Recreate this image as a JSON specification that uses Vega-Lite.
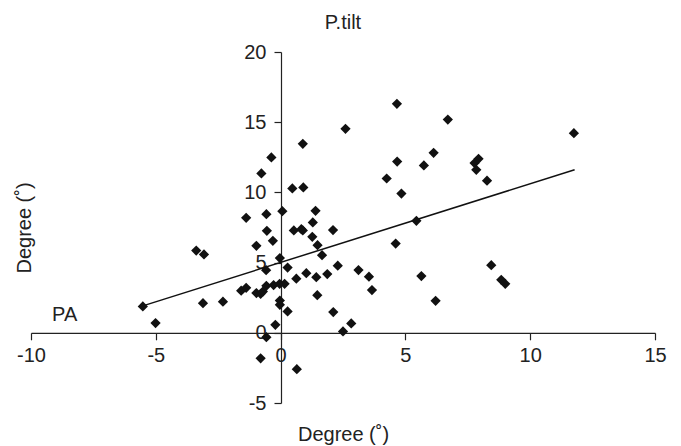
{
  "$schema": "https://vega.github.io/schema/vega-lite/v6.json",
  "width": 624,
  "height": 351,
  "autosize": {"type": "none"},
  "padding": {"left": 31, "top": 52, "right": 26, "bottom": 43},
  "background": "white",
  "config": {"view": {"stroke": null}, "font": "Liberation Sans"},
  "title": {"text": "P.tilt", "fontSize": 20, "fontWeight": "normal", "color": "#222", "anchor": "middle", "frame": "group", "baseline": "alphabetic", "offset": 14, "dy": 21, "font": "Liberation Sans"},
  "datasets": {
    "pts": [
      {"x": -5.52, "y": 1.88}, {"x": -5.01, "y": 0.69}, {"x": -3.38, "y": 5.86}, {"x": -3.07, "y": 5.58},
      {"x": -3.11, "y": 2.11}, {"x": -2.31, "y": 2.22}, {"x": -1.58, "y": 3.0}, {"x": -1.38, "y": 3.2},
      {"x": -1.38, "y": 8.19}, {"x": -0.97, "y": 6.2}, {"x": -0.77, "y": 11.35}, {"x": -0.37, "y": 12.49},
      {"x": -0.57, "y": 8.45}, {"x": -0.55, "y": 7.26}, {"x": -0.31, "y": 6.55}, {"x": -0.58, "y": 4.46},
      {"x": -0.97, "y": 2.83}, {"x": -0.8, "y": 2.78}, {"x": -0.71, "y": 2.94}, {"x": -0.57, "y": 3.35},
      {"x": -0.28, "y": 3.4}, {"x": -0.04, "y": 3.49}, {"x": 0.16, "y": 3.49}, {"x": 0.07, "y": 8.66},
      {"x": -0.03, "y": 5.32}, {"x": 0.28, "y": 4.65}, {"x": -0.03, "y": 2.3}, {"x": -0.03, "y": 1.99},
      {"x": 0.28, "y": 1.52}, {"x": -0.21, "y": 0.57}, {"x": -0.57, "y": -0.31}, {"x": -0.8, "y": -1.82},
      {"x": 0.65, "y": -2.59}, {"x": 0.47, "y": 10.28}, {"x": 0.91, "y": 10.35}, {"x": 0.89, "y": 13.46},
      {"x": 0.53, "y": 7.29}, {"x": 0.83, "y": 7.38}, {"x": 0.89, "y": 7.29}, {"x": 1.4, "y": 8.69},
      {"x": 1.29, "y": 7.86}, {"x": 1.27, "y": 6.84}, {"x": 1.48, "y": 6.24}, {"x": 1.66, "y": 5.53},
      {"x": 1.03, "y": 4.25}, {"x": 0.63, "y": 3.85}, {"x": 1.43, "y": 3.96}, {"x": 1.87, "y": 4.18},
      {"x": 1.47, "y": 2.68}, {"x": 2.1, "y": 7.32}, {"x": 2.29, "y": 4.78}, {"x": 2.11, "y": 1.48},
      {"x": 2.5, "y": 0.1}, {"x": 2.83, "y": 0.67}, {"x": 2.6, "y": 14.53}, {"x": 3.12, "y": 4.47},
      {"x": 3.54, "y": 4.0}, {"x": 3.66, "y": 3.04}, {"x": 4.25, "y": 10.99}, {"x": 4.66, "y": 16.31},
      {"x": 4.67, "y": 12.2}, {"x": 4.61, "y": 6.36}, {"x": 4.84, "y": 9.92}, {"x": 5.44, "y": 7.98},
      {"x": 5.64, "y": 4.04}, {"x": 5.74, "y": 11.92}, {"x": 6.13, "y": 12.82}, {"x": 6.21, "y": 2.28},
      {"x": 6.7, "y": 15.19}, {"x": 7.77, "y": 12.09}, {"x": 7.93, "y": 12.39}, {"x": 7.84, "y": 11.61},
      {"x": 8.27, "y": 10.83}, {"x": 8.44, "y": 4.82}, {"x": 8.84, "y": 3.77}, {"x": 9.0, "y": 3.49},
      {"x": 11.75, "y": 14.22}
    ],
    "trend": [{"x": -5.52, "y": 1.92}, {"x": 11.78, "y": 11.61}],
    "lbl": [{"x": -8.65, "y": 1.3, "t": "PA"}]
  },
  "encoding": {
    "x": {
      "field": "x", "type": "quantitative",
      "scale": {"domain": [-10, 15], "nice": false, "zero": false},
      "axis": {
        "orient": "bottom", "offset": -70.2, "values": [-10, -5, 0, 5, 10, 15], "grid": false,
        "labelExpr": "'' + datum.value",
        "domainColor": "#222", "tickColor": "#222", "tickSize": 7, "domainWidth": 1.2, "tickWidth": 1.2,
        "labelFontSize": 20, "labelColor": "#222", "labelPadding": 6, "labelFlush": false, "labelOverlap": false,
        "title": "Degree (˚)", "titleFontSize": 20, "titleFontWeight": "normal", "titleColor": "#222",
        "titleY": 108, "titleBaseline": "alphabetic"
      }
    },
    "y": {
      "field": "y", "type": "quantitative",
      "scale": {"domain": [-5, 20], "nice": false, "zero": false},
      "axis": {
        "orient": "left", "offset": -250, "values": [-5, 0, 5, 10, 15, 20], "grid": false,
        "labelExpr": "'' + datum.value",
        "domainColor": "#222", "tickColor": "#222", "tickSize": 7, "domainWidth": 1.2, "tickWidth": 1.2,
        "labelFontSize": 20, "labelColor": "#222", "labelPadding": 8, "labelFlush": false, "labelOverlap": false,
        "title": "Degree (˚)", "titleFontSize": 20, "titleFontWeight": "normal", "titleColor": "#222",
        "titleX": -251, "titleY": 175.5, "titleAngle": -90, "titleBaseline": "alphabetic", "titleAlign": "center"
      }
    }
  },
  "layer": [
    {"data": {"name": "trend"}, "mark": {"type": "line", "color": "#111", "strokeWidth": 1.5}},
    {"data": {"name": "pts"}, "mark": {"type": "point", "shape": "diamond", "filled": true, "color": "#111", "size": 105, "opacity": 1}},
    {"data": {"name": "lbl"}, "mark": {"type": "text", "fontSize": 20, "color": "#222", "align": "center", "baseline": "middle", "font": "Liberation Sans"}, "encoding": {"text": {"field": "t"}}}
  ]
}
